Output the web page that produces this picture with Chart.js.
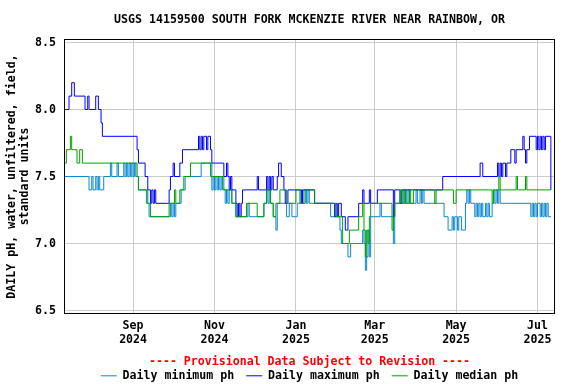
<!DOCTYPE html>
<html>
<head>
<meta charset="utf-8">
<script src="https://cdn.jsdelivr.net/npm/chart.js@4/dist/chart.umd.min.js"></script>
<style>
  body { margin: 0; background: #fff; }
  canvas { display: block; }
</style>
</head>
<body>
<canvas id="phChart" width="576" height="384"></canvas>
<script>
// Day numbers count from 12 Jul 2024 (day 0). Each pair is [day, pH] where the value changes.
const dailyMin = [
  [0, 7.5], [18, 7.4], [20, 7.5], [21, 7.4], [23, 7.5], [24, 7.4], [25, 7.5], [26, 7.4], [29, 7.5],
  [34, 7.6], [35, 7.5], [39, 7.6], [40, 7.5], [44, 7.6], [45, 7.5], [46, 7.6], [47, 7.5], [48, 7.6],
  [49, 7.5], [50, 7.6], [51, 7.5], [52, 7.6], [53, 7.5], [55, 7.4], [61, 7.3], [63, 7.2], [79, 7.3],
  [80, 7.2], [81, 7.3], [82, 7.2], [83, 7.3], [87, 7.4], [90, 7.5], [102, 7.6], [109, 7.5], [110, 7.4],
  [111, 7.5], [112, 7.4], [113, 7.5], [114, 7.4], [115, 7.5], [116, 7.4], [117, 7.5], [118, 7.4],
  [120, 7.3], [121, 7.4], [122, 7.3], [123, 7.4], [125, 7.3], [128, 7.2], [137, 7.3], [138, 7.2],
  [149, 7.3], [151, 7.4], [152, 7.3], [153, 7.4], [154, 7.3], [156, 7.2], [158, 7.1], [159, 7.3],
  [166, 7.2], [168, 7.3], [170, 7.2], [174, 7.3], [177, 7.4], [178, 7.3], [179, 7.4], [181, 7.3],
  [182, 7.4], [183, 7.3], [199, 7.2], [206, 7.1], [207, 7.0], [212, 6.9], [214, 7.0], [223, 7.1],
  [224, 7.0], [225, 6.8], [226, 6.9], [227, 7.1], [228, 6.9], [229, 7.2], [236, 7.3], [237, 7.2],
  [246, 7.0], [247, 7.3], [253, 7.4], [254, 7.3], [255, 7.4], [256, 7.3], [257, 7.4], [258, 7.3],
  [263, 7.4], [264, 7.3], [266, 7.4], [267, 7.3], [268, 7.4], [269, 7.3], [284, 7.2], [287, 7.1],
  [290, 7.2], [291, 7.1], [292, 7.2], [294, 7.1], [295, 7.2], [297, 7.1], [300, 7.3], [301, 7.4],
  [302, 7.3], [303, 7.4], [304, 7.3], [307, 7.2], [308, 7.3], [309, 7.2], [310, 7.3], [311, 7.2],
  [312, 7.3], [313, 7.2], [315, 7.3], [316, 7.2], [317, 7.3], [318, 7.2], [320, 7.3], [321, 7.4],
  [322, 7.3], [323, 7.4], [324, 7.3], [325, 7.4], [326, 7.3], [349, 7.2], [350, 7.3], [351, 7.2],
  [352, 7.3], [353, 7.2], [354, 7.3], [356, 7.2], [357, 7.3], [358, 7.2], [359, 7.3], [360, 7.2],
  [361, 7.3], [362, 7.2], [364, 7.2]
];

const dailyMax = [
  [0, 8.0], [3, 8.1], [5, 8.2], [7, 8.1], [15, 8.0], [17, 8.1], [18, 8.0], [23, 8.1], [25, 8.0],
  [27, 7.9], [28, 7.8], [54, 7.7], [55, 7.6], [60, 7.5], [62, 7.4], [64, 7.3], [65, 7.4], [66, 7.3],
  [67, 7.4], [68, 7.3], [78, 7.4], [79, 7.5], [81, 7.6], [82, 7.5], [86, 7.6], [88, 7.7], [100, 7.8],
  [101, 7.7], [102, 7.8], [103, 7.7], [104, 7.8], [106, 7.7], [107, 7.8], [109, 7.7], [110, 7.6],
  [119, 7.5], [121, 7.6], [122, 7.5], [123, 7.4], [124, 7.5], [125, 7.4], [128, 7.3], [129, 7.2],
  [130, 7.3], [131, 7.2], [132, 7.3], [133, 7.4], [144, 7.5], [145, 7.4], [151, 7.5], [152, 7.4],
  [153, 7.5], [154, 7.4], [155, 7.5], [156, 7.4], [159, 7.5], [160, 7.6], [162, 7.5], [164, 7.4],
  [165, 7.3], [167, 7.4], [177, 7.3], [178, 7.4], [187, 7.3], [202, 7.2], [203, 7.3], [204, 7.2],
  [205, 7.3], [207, 7.2], [210, 7.1], [212, 7.2], [220, 7.3], [223, 7.4], [224, 7.3], [228, 7.4],
  [229, 7.3], [234, 7.4], [246, 7.2], [247, 7.4], [251, 7.3], [252, 7.4], [283, 7.5], [311, 7.6],
  [313, 7.5], [324, 7.6], [325, 7.5], [326, 7.6], [327, 7.5], [328, 7.6], [330, 7.5], [331, 7.6],
  [334, 7.7], [337, 7.6], [338, 7.7], [343, 7.8], [344, 7.7], [345, 7.6], [346, 7.7], [348, 7.8],
  [353, 7.7], [354, 7.8], [355, 7.7], [356, 7.8], [357, 7.7], [358, 7.8], [359, 7.7], [360, 7.8],
  [364, 7.4]
];

const dailyMedian = [
  [0, 7.6], [1, 7.7], [4, 7.8], [5, 7.7], [9, 7.6], [11, 7.7], [13, 7.6], [54, 7.5], [55, 7.4],
  [62, 7.3], [64, 7.2], [78, 7.3], [82, 7.4], [83, 7.3], [86, 7.4], [89, 7.5], [94, 7.6], [110, 7.5],
  [119, 7.4], [125, 7.3], [128, 7.2], [136, 7.3], [144, 7.2], [149, 7.3], [151, 7.4], [154, 7.3],
  [156, 7.2], [158, 7.3], [161, 7.4], [166, 7.3], [173, 7.4], [176, 7.3], [180, 7.4], [187, 7.3],
  [203, 7.2], [208, 7.0], [213, 7.1], [220, 7.2], [223, 7.3], [224, 7.1], [225, 6.9], [226, 7.1],
  [227, 7.0], [228, 7.2], [229, 7.3], [245, 7.1], [246, 7.2], [247, 7.3], [251, 7.4], [252, 7.3],
  [254, 7.4], [255, 7.3], [258, 7.4], [259, 7.3], [261, 7.4], [277, 7.3], [278, 7.4], [291, 7.3],
  [293, 7.4], [320, 7.3], [321, 7.4], [325, 7.5], [326, 7.4], [338, 7.5], [339, 7.4], [345, 7.5],
  [346, 7.4], [364, 7.4]
];

// x axis: first day of each labelled month
const tickDays = [51, 112, 173, 232, 293, 354];
const tickMonths = ['Sep', 'Nov', 'Jan', 'Mar', 'May', 'Jul'];
const tickYears = ['2024', '2024', '2025', '2025', '2025', '2025'];
const yTicks = [6.5, 7.0, 7.5, 8.0, 8.5];

const monoFont = { family: 'DejaVu Sans Mono', size: 11.6, weight: 'bold', lineHeight: '14px' };

Chart.defaults.font = monoFont;
Chart.defaults.color = '#000';

function toPoints(pairs) {
    return pairs.map(p => ({ x: p[0], y: p[1] }));
}

// black box round the plot area
const frame = {
    id: 'frame',
    beforeDatasetsDraw(chart) {
        const a = chart.chartArea;
        const ctx = chart.ctx;
        ctx.save();
        ctx.strokeStyle = '#000';
        ctx.lineWidth = 1;
        ctx.strokeRect(a.left + 0.5, a.top + 0.5, a.right - a.left - 1, a.bottom - a.top - 1);
        ctx.restore();
    }
};

const lineStyle = { pointRadius: 0, borderWidth: 1, stepped: true, fill: false };

new Chart(document.getElementById('phChart'), {
    type: 'line',
    data: {
        datasets: [
            { label: 'Daily minimum ph', data: toPoints(dailyMin), borderColor: '#0a88d0', order: 3, ...lineStyle },
            { label: 'Daily maximum ph', data: toPoints(dailyMax), borderColor: '#0000ff', order: 2, ...lineStyle },
            { label: 'Daily median ph', data: toPoints(dailyMedian), borderColor: '#00a000', order: 1, ...lineStyle }
        ]
    },
    options: {
        responsive: false,
        animation: false,
        layout: { padding: { left: 0, right: 21, top: 0, bottom: 0 } },
        scales: {
            x: {
                type: 'linear',
                min: -0.76,
                max: 367.1,
                afterBuildTicks: scale => { scale.ticks = tickDays.map(v => ({ value: v })); },
                afterFit: scale => { scale.height = 44; },
                ticks: {
                    autoSkip: false,
                    maxRotation: 0,
                    padding: 5,
                    callback: (value, index) => [tickMonths[index], tickYears[index]]
                },
                grid: { color: '#cccccc', drawTicks: false },
                border: { display: false },
                title: {
                    display: true,
                    text: '---- Provisional Data Subject to Revision ----',
                    color: '#ff0000',
                    padding: { top: 0, bottom: -10.5 }
                }
            },
            y: {
                min: 6.4739,
                max: 8.5261,
                afterBuildTicks: scale => { scale.ticks = yTicks.map(v => ({ value: v })); },
                afterFit: scale => { scale.width = 64; },
                ticks: {
                    padding: 8,
                    callback: v => v.toFixed(1)
                },
                grid: { color: '#cccccc', drawTicks: false },
                border: { display: false },
                title: {
                    display: true,
                    text: ['DAILY pH, water, unfiltered, field,', 'standard units'],
                    font: { family: 'DejaVu Sans Mono', size: 11.6, weight: 'bold', lineHeight: '13px' },
                    padding: { top: 5, bottom: 0 }
                }
            }
        },
        plugins: {
            title: {
                display: true,
                fullSize: false,
                text: 'USGS 14159500 SOUTH FORK MCKENZIE RIVER NEAR RAINBOW, OR',
                font: monoFont,
                color: '#000',
                padding: { top: 13, bottom: 12 }
            },
            legend: {
                position: 'bottom',
                fullSize: false,
                maxHeight: 26,
                labels: {
                    usePointStyle: true,
                    pointStyle: 'line',
                    pointStyleWidth: 16,
                    padding: 12,
                    font: monoFont,
                    color: '#000',
                    sort: (a, b) => a.datasetIndex - b.datasetIndex
                }
            },
            tooltip: { enabled: false }
        }
    },
    plugins: [frame]
});
</script>
</body>
</html>
